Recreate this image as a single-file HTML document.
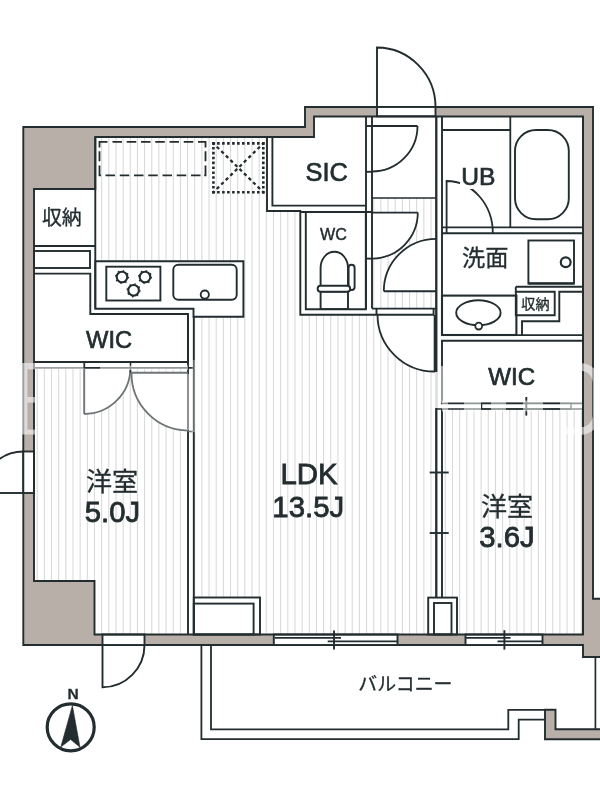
<!DOCTYPE html>
<html><head><meta charset="utf-8"><title>Floor plan</title>
<style>
html,body{margin:0;padding:0;background:#fff;}
body{width:600px;height:800px;overflow:hidden;font-family:"Liberation Sans","Noto Sans CJK JP",sans-serif;}
svg{display:block;}
svg{will-change:transform;filter:blur(0.3px);}
svg text{font-family:"Liberation Sans","Noto Sans CJK JP",sans-serif;}
</style></head><body>
<svg width="600" height="800" viewBox="0 0 600 800">
<rect width="600" height="800" fill="#fff"/>
<path d="M23.3 127 L305 127 L305 107 L593 107 L593 598.7 L602 598.7 L602 657 L583 657 L583 645 L23.3 645 Z" fill="#b8afa9" stroke="#232d2f" stroke-width="1.9" />
<path d="M95.3 137 L314 137 L314 116.5 L583 116.5 L583 634.5 L94.5 634.5 L94.5 581 L34 581 L34 189 L95.3 189 Z" fill="#fff" stroke="none" stroke-width="1.9" />
<clipPath id="fl"><path d="M95.3 137 L267 137 L267 211 L300.3 211 L300.3 314.5 L436.3 314.5 L436.3 634.5 L193.8 634.5 L193.8 316.8 L243.4 316.8 L243.4 261.2 L95.3 261.2 Z M372 198 L436.3 198 L436.3 308.6 L372 308.6 Z M34 367.8 L188 367.8 L188 634.5 L94.5 634.5 L94.5 581 L34 581 Z M442 409 L583 409 L583 634.5 L442 634.5 Z "/></clipPath>
<path d="M22.88 100V700 M30.04 100V700 M37.20 100V700 M44.36 100V700 M51.52 100V700 M58.68 100V700 M65.84 100V700 M73.00 100V700 M80.16 100V700 M87.32 100V700 M94.48 100V700 M101.64 100V700 M108.80 100V700 M115.96 100V700 M123.12 100V700 M130.28 100V700 M137.44 100V700 M144.60 100V700 M151.76 100V700 M158.92 100V700 M166.08 100V700 M173.24 100V700 M180.40 100V700 M187.56 100V700 M194.72 100V700 M201.88 100V700 M209.04 100V700 M216.20 100V700 M223.36 100V700 M230.52 100V700 M237.68 100V700 M244.84 100V700 M252.00 100V700 M259.16 100V700 M266.32 100V700 M273.48 100V700 M280.64 100V700 M287.80 100V700 M294.96 100V700 M302.12 100V700 M309.28 100V700 M316.44 100V700 M323.60 100V700 M330.76 100V700 M337.92 100V700 M345.08 100V700 M352.24 100V700 M359.40 100V700 M366.56 100V700 M373.72 100V700 M380.88 100V700 M388.04 100V700 M395.20 100V700 M402.36 100V700 M409.52 100V700 M416.68 100V700 M423.84 100V700 M431.00 100V700 M438.16 100V700 M445.32 100V700 M452.48 100V700 M459.64 100V700 M466.80 100V700 M473.96 100V700 M481.12 100V700 M488.28 100V700 M495.44 100V700 M502.60 100V700 M509.76 100V700 M516.92 100V700 M524.08 100V700 M531.24 100V700 M538.40 100V700 M545.56 100V700 M552.72 100V700 M559.88 100V700 M567.04 100V700 M574.20 100V700 M581.36 100V700 M588.52 100V700 M595.68 100V700" stroke="#dadada" stroke-width="1.1" fill="none" clip-path="url(#fl)"/>
<rect x="377" y="107" width="58.5" height="9.299999999999997" rx="0" fill="#fff" stroke="none"/>
<rect x="23.3" y="451.5" width="10.7" height="41.5" rx="0" fill="#fff" stroke="none"/>
<rect x="102.5" y="634.5" width="42.0" height="10.5" rx="0" fill="#fff" stroke="none"/>
<rect x="273.8" y="634.5" width="123.69999999999999" height="10.5" rx="0" fill="#fff" stroke="none"/>
<rect x="465.5" y="634.5" width="77.0" height="10.5" rx="0" fill="#fff" stroke="none"/>
<path d="M95.3 261.2 L243.4 261.2 L243.4 316.8 L193.5 316.8 L193.5 308.8 L95.3 308.8 Z" fill="#fff" stroke="none"/>
<path d="M267 137 L314 137 L314 116.3 L372 116.3 L372 314.7 L300.3 314.7 L300.3 211 L267 211 Z" fill="#fff" stroke="none"/>
<rect x="372" y="116.3" width="64.30000000000001" height="81.7" rx="0" fill="#fff" stroke="none"/>
<rect x="436.3" y="116.3" width="146.7" height="292.7" rx="0" fill="#fff" stroke="none"/>
<rect x="193.8" y="597.5" width="66.19999999999999" height="37.0" rx="0" fill="#fff" stroke="none"/>
<rect x="193.8" y="603.6" width="59.79999999999998" height="30.899999999999977" rx="0" fill="#fff" stroke="none"/>
<rect x="428.2" y="597.6" width="28.80000000000001" height="36.89999999999998" rx="0" fill="#fff" stroke="none"/>
<rect x="434" y="603" width="17.5" height="31.5" rx="0" fill="#fff" stroke="none"/>
<path d="M372 126 L417.5 126 A45.5 45.5 0 0 1 372 171.5 Z" fill="#fff" stroke="none"/>
<path d="M372 212.6 L417.8 212.6 A46 46 0 0 1 372 258.6 Z" fill="#fff" stroke="none"/>
<path d="M436.3 291.2 L383.8 291.2 A52.4 52.4 0 0 1 436.3 238.8 Z" fill="#fff" stroke="none"/>
<path d="M435 314.7 L435 371.5 A57 57 0 0 1 377.5 314.7 Z" fill="#fff" stroke="none"/>
<path d="M84.2 367.8 L84.2 414 A46.2 46.2 0 0 0 130.4 367.8 Z" fill="#fff" stroke="none"/>
<path d="M188 372.8 L131.5 372.8 A57 57 0 0 0 188 430.5 Z" fill="#fff" stroke="none"/>
<path d="M95.3 137 L314 137 L314 116.5 L583 116.5 L583 634.5 L94.5 634.5 L94.5 581 L34 581 L34 189 L95.3 189 Z" fill="none" stroke="#232d2f" stroke-width="1.9" />
<rect x="377" y="107" width="58.5" height="9.299999999999997" rx="0" fill="none" stroke="#232d2f" stroke-width="1.9" />
<rect x="23.3" y="451.5" width="10.7" height="41.5" rx="0" fill="none" stroke="#232d2f" stroke-width="1.9" />
<rect x="102.5" y="634.5" width="42.0" height="10.5" rx="0" fill="none" stroke="#232d2f" stroke-width="1.9" />
<rect x="273.8" y="634.5" width="123.69999999999999" height="10.5" rx="0" fill="none" stroke="#232d2f" stroke-width="1.9" />
<rect x="465.5" y="634.5" width="77.0" height="10.5" rx="0" fill="none" stroke="#232d2f" stroke-width="1.9" />
<line x1="274.5" y1="637.8" x2="341" y2="637.8" stroke="#232d2f" stroke-width="1.7" />
<line x1="327.7" y1="641.4" x2="397" y2="641.4" stroke="#232d2f" stroke-width="1.7" />
<line x1="334" y1="630.4" x2="334" y2="649.6" stroke="#232d2f" stroke-width="1.9" />
<line x1="466" y1="637.8" x2="510.5" y2="637.8" stroke="#232d2f" stroke-width="1.7" />
<line x1="497.5" y1="641.4" x2="542" y2="641.4" stroke="#232d2f" stroke-width="1.7" />
<line x1="504.4" y1="630.2" x2="504.4" y2="649.6" stroke="#232d2f" stroke-width="1.9" />
<path d="M377 107 V47.5 A59 59.5 0 0 1 435.5 107" fill="none" stroke="#232d2f" stroke-width="1.9"/>
<path d="M-2 493 H23.3" fill="none" stroke="#232d2f" stroke-width="1.9"/>
<path d="M23.3 451.5 A41.5 41.5 0 0 0 -18.2 493" fill="none" stroke="#232d2f" stroke-width="1.9"/>
<path d="M102.5 645 V687.3 A42 42.3 0 0 0 144.5 645" fill="none" stroke="#232d2f" stroke-width="1.9"/>
<line x1="34" y1="246" x2="95.3" y2="246" stroke="#232d2f" stroke-width="1.9" />
<rect x="34" y="251" width="56" height="17" rx="0" fill="none" stroke="#232d2f" stroke-width="1.9" />
<path d="M34 273.6 L90.3 273.6 L90.3 314 L188 314 L188 362" fill="none" stroke="#232d2f" stroke-width="1.9" />
<line x1="34" y1="362" x2="188" y2="362" stroke="#232d2f" stroke-width="1.9" />
<line x1="34" y1="367.8" x2="194" y2="367.8" stroke="#232d2f" stroke-width="1.7" />
<line x1="95.3" y1="137" x2="95.3" y2="308.6" stroke="#232d2f" stroke-width="1.9" />
<path d="M95.3 261.2 L243.4 261.2 L243.4 316.8 L193.5 316.8 L193.5 308.8 L95.3 308.8 Z" fill="none" stroke="#232d2f" stroke-width="1.9" />
<rect x="106.3" y="266.7" width="54.10000000000001" height="33.80000000000001" rx="0" fill="none" stroke="#232d2f" stroke-width="1.9" />
<circle cx="122" cy="277" r="5.3" fill="#fff" stroke="#232d2f" stroke-width="2.1"/>
<circle cx="122" cy="277" r="6.3" fill="none" stroke="#232d2f" stroke-width="1.6" stroke-dasharray="1.4 3.548"/>
<circle cx="145" cy="277" r="5.3" fill="#fff" stroke="#232d2f" stroke-width="2.1"/>
<circle cx="145" cy="277" r="6.3" fill="none" stroke="#232d2f" stroke-width="1.6" stroke-dasharray="1.4 3.548"/>
<circle cx="133.6" cy="290.3" r="5.3" fill="#fff" stroke="#232d2f" stroke-width="2.1"/>
<circle cx="133.6" cy="290.3" r="6.3" fill="none" stroke="#232d2f" stroke-width="1.6" stroke-dasharray="1.4 3.548"/>
<rect x="173.3" y="264.8" width="63.39999999999998" height="34.89999999999998" rx="5" fill="none" stroke="#232d2f" stroke-width="1.9" />
<circle cx="204.8" cy="294.6" r="4.1" fill="#fff" stroke="#232d2f" stroke-width="1.9"/>
<line x1="188" y1="314" x2="188" y2="634.5" stroke="#232d2f" stroke-width="1.9" />
<line x1="193.8" y1="316.8" x2="193.8" y2="634.5" stroke="#232d2f" stroke-width="1.9" />
<path d="M99.5 141.8H107.5 M112.5 141.8H122 M126.75 141.8H136.25 M141 141.8H150.5 M155.25 141.8H164.75 M169.5 141.8H179 M183.75 141.8H193.25 M198 141.8H205.5 M99.5 175.4H101 M105.5 175.4H115 M119.75 175.4H129.25 M134 175.4H143.5 M148.25 175.4H157.75 M162.5 175.4H172 M176.75 175.4H186.25 M191 175.4H200.5 M204.2 175.4H205.5 M99.5 141V147.5 M99.5 151.25V161.25 M99.5 165.5V176.2 M205.5 141V147.5 M205.5 151.25V161.25 M205.5 165.5V176.2" fill="none" stroke="#232d2f" stroke-width="1.8"/>
<path d="M212.1 143.4H264.6" fill="none" stroke="#232d2f" stroke-width="2.6" stroke-dasharray="2.6 2.390"/>
<path d="M212.1 192.2H264.6" fill="none" stroke="#232d2f" stroke-width="2.6" stroke-dasharray="2.6 2.390"/>
<path d="M213.4 142.1V193.5" fill="none" stroke="#232d2f" stroke-width="2.6" stroke-dasharray="2.6 2.280"/>
<path d="M263.3 142.1V193.5" fill="none" stroke="#232d2f" stroke-width="2.6" stroke-dasharray="2.6 2.280"/>
<path d="M213.4 143.4 L263.3 192.2 M263.3 143.4 L213.4 192.2" fill="none" stroke="#232d2f" stroke-width="2.3" stroke-dasharray="3.3 3.05" stroke-dashoffset="1.6"/>
<path d="M267 137 L267 211 L300.3 211 L300.3 314.7 L434 314.7" fill="none" stroke="#232d2f" stroke-width="1.9" />
<path d="M272.4 137 L272.4 205.6 L366 205.6" fill="none" stroke="#232d2f" stroke-width="1.9" />
<line x1="366" y1="116.3" x2="366" y2="309.2" stroke="#232d2f" stroke-width="1.9" />
<line x1="372" y1="116.3" x2="372" y2="308.6" stroke="#232d2f" stroke-width="1.9" />
<path d="M305.8 212 L365.8 212 L365.8 309.2 L305.8 309.2 Z" fill="none" stroke="#232d2f" stroke-width="1.9" />
<line x1="300.3" y1="212" x2="372" y2="212" stroke="#232d2f" stroke-width="1.9" />
<line x1="372" y1="198" x2="436.3" y2="198" stroke="#232d2f" stroke-width="1.6" />
<line x1="436.3" y1="116.3" x2="436.3" y2="597.5" stroke="#232d2f" stroke-width="1.9" />
<line x1="372" y1="308.6" x2="437" y2="308.6" stroke="#232d2f" stroke-width="1.9" />
<line x1="376.5" y1="308.6" x2="376.5" y2="314.7" stroke="#232d2f" stroke-width="1.9" />
<line x1="433.6" y1="308.6" x2="433.6" y2="314.7" stroke="#232d2f" stroke-width="1.9" />
<path d="M320.6 285.8 V268 A13.7 16.3 0 0 1 348 268 V285.8" fill="#fff" stroke="#232d2f" stroke-width="1.9"/>
<rect x="348.6" y="264.8" width="6.0" height="25.19999999999999" rx="3" fill="#fff" stroke="#232d2f" stroke-width="1.9" />
<rect x="320.6" y="291.5" width="27.399999999999977" height="17.5" rx="0" fill="#fff" stroke="#232d2f" stroke-width="1.9" />
<rect x="317.6" y="285.8" width="32.599999999999966" height="6.0" rx="3" fill="#fff" stroke="#232d2f" stroke-width="1.9" />
<line x1="436.3" y1="116.3" x2="436.3" y2="597.5" stroke="#232d2f" stroke-width="1.9" />
<line x1="583" y1="116.3" x2="583" y2="634.5" stroke="#232d2f" stroke-width="1.9" />
<line x1="442" y1="116.3" x2="442" y2="335" stroke="#232d2f" stroke-width="1.9" />
<line x1="442" y1="130" x2="510.3" y2="130" stroke="#232d2f" stroke-width="1.8" />
<line x1="510.3" y1="116.3" x2="510.3" y2="227.3" stroke="#232d2f" stroke-width="1.8" />
<line x1="442" y1="227.3" x2="583" y2="227.3" stroke="#232d2f" stroke-width="1.8" />
<line x1="442" y1="233.2" x2="583" y2="233.2" stroke="#232d2f" stroke-width="1.9" />
<rect x="515" y="130" width="53.799999999999955" height="89.19999999999999" rx="21" fill="none" stroke="#232d2f" stroke-width="1.9" />
<path d="M446.6 233 V181 A46.2 52 0 0 1 492.8 233" fill="none" stroke="#232d2f" stroke-width="1.8"/>
<rect x="528.4" y="240.5" width="45.60000000000002" height="43.10000000000002" rx="0" fill="none" stroke="#232d2f" stroke-width="1.9" />
<line x1="528.4" y1="283.4" x2="574" y2="283.4" stroke="#232d2f" stroke-width="2.4" />
<circle cx="565.7" cy="262.3" r="4.9" fill="#fff" stroke="#232d2f" stroke-width="2.2"/>
<line x1="515.8" y1="286.8" x2="583" y2="286.8" stroke="#232d2f" stroke-width="1.9" />
<path d="M515.8 286.8 L515.8 315.3 L554.7 315.3 L554.7 291.7 L515.8 291.7" fill="none" stroke="#232d2f" stroke-width="1.9" />
<path d="M583 291.7 L559.3 291.7 L559.3 321.3 L522 321.3 L522 335.3" fill="none" stroke="#232d2f" stroke-width="1.9" />
<rect x="442" y="295.6" width="74.39999999999998" height="39.39999999999998" rx="0" fill="none" stroke="#232d2f" stroke-width="2.1" />
<line x1="442" y1="335.2" x2="583" y2="335.2" stroke="#232d2f" stroke-width="1.8" />
<ellipse cx="478.4" cy="312.8" rx="22.2" ry="12.5" fill="none" stroke="#232d2f" stroke-width="1.9"/>
<circle cx="478.7" cy="326.1" r="3.4" fill="#fff" stroke="#232d2f" stroke-width="1.8"/>
<path d="M583 340.8 L442 340.8 L442 403.4 L583 403.4" fill="none" stroke="#232d2f" stroke-width="1.9" />
<line x1="436.3" y1="409" x2="583" y2="409" stroke="#232d2f" stroke-width="1.7" />
<rect x="481.6" y="403.4" width="89.39999999999998" height="5.600000000000023" rx="0" fill="none" stroke="#232d2f" stroke-width="1.3" />
<line x1="526.3" y1="397" x2="526.3" y2="415.6" stroke="#232d2f" stroke-width="1.9" />
<line x1="442" y1="409" x2="442" y2="597.5" stroke="#232d2f" stroke-width="1.9" />
<line x1="429.7" y1="472.5" x2="448.7" y2="472.5" stroke="#232d2f" stroke-width="1.9" />
<line x1="429.7" y1="533" x2="448.7" y2="533" stroke="#232d2f" stroke-width="1.9" />
<rect x="193.8" y="597.5" width="66.19999999999999" height="37.0" rx="0" fill="none" stroke="#232d2f" stroke-width="1.9" />
<rect x="193.8" y="603.6" width="59.79999999999998" height="30.899999999999977" rx="0" fill="none" stroke="#232d2f" stroke-width="1.9" />
<rect x="428.2" y="597.6" width="28.80000000000001" height="36.89999999999998" rx="0" fill="none" stroke="#232d2f" stroke-width="1.9" />
<rect x="434" y="603" width="17.5" height="31.5" rx="0" fill="none" stroke="#232d2f" stroke-width="1.9" />
<path d="M417.5 126 A45.5 45.5 0 0 1 372 171.5" fill="none" stroke="#232d2f" stroke-width="1.8"/>
<path d="M372 126 L417.5 126" fill="none" stroke="#232d2f" stroke-width="1.9"/>
<line x1="366" y1="126" x2="372" y2="126" stroke="#232d2f" stroke-width="1.9" />
<line x1="366" y1="171.8" x2="372" y2="171.8" stroke="#232d2f" stroke-width="1.9" />
<path d="M417.8 212.6 A46 46 0 0 1 372 258.6" fill="none" stroke="#232d2f" stroke-width="1.8"/>
<path d="M372 212.6 L417.8 212.6" fill="none" stroke="#232d2f" stroke-width="1.9"/>
<line x1="366" y1="258.6" x2="372" y2="258.6" stroke="#232d2f" stroke-width="1.9" />
<path d="M383.8 291.2 A52.4 52.4 0 0 1 436.3 238.8" fill="none" stroke="#232d2f" stroke-width="1.8"/>
<path d="M436.3 291.2 L383.8 291.2" fill="none" stroke="#232d2f" stroke-width="1.9"/>
<path d="M435 371.5 A57 57 0 0 1 377.5 314.7" fill="none" stroke="#232d2f" stroke-width="1.8"/>
<path d="M435 314.7 L435 371.5" fill="none" stroke="#232d2f" stroke-width="2.6"/>
<path d="M84.2 414 A46.2 46.2 0 0 0 130.4 367.8" fill="none" stroke="#6f7577" stroke-width="1.8"/>
<path d="M84.2 367.8 L84.2 414" fill="none" stroke="#6f7577" stroke-width="1.9"/>
<line x1="84.2" y1="362" x2="84.2" y2="367.8" stroke="#232d2f" stroke-width="1.9" />
<path d="M131.5 372.8 A57 57 0 0 0 188 430.5" fill="none" stroke="#6f7577" stroke-width="1.8"/>
<path d="M188 372.8 L131.5 372.8" fill="none" stroke="#6f7577" stroke-width="2"/>
<line x1="188" y1="431.5" x2="194" y2="431.5" stroke="#6f7577" stroke-width="1.6" />
<line x1="130.5" y1="362" x2="130.5" y2="372.8" stroke="#232d2f" stroke-width="1.6" />
<path d="M201.4 645 L201.4 739.2 L518.7 739.2 L518.7 719.7 L545 719.7" fill="none" stroke="#232d2f" stroke-width="1.8" />
<path d="M211 645 L211 729.3 L508.3 729.3 L508.3 709.8 L555.5 709.8" fill="none" stroke="#232d2f" stroke-width="1.8" />
<path d="M545 709.8 L555.5 709.8 L555.5 729.2 L602 729.2 L602 739.2 L545 739.2 Z" fill="#b8afa9" stroke="#232d2f" stroke-width="1.9" />
<line x1="595.4" y1="657" x2="595.4" y2="729.2" stroke="#232d2f" stroke-width="1.7" />
<rect x="21.8" y="363" width="5.6" height="71.5" fill="#fff" fill-opacity="0.55"/>
<rect x="27.4" y="363" width="56" height="6.3" fill="#fff" fill-opacity="0.55"/>
<rect x="27.4" y="397" width="8" height="5.6" fill="#fff" fill-opacity="0.55"/>
<rect x="27.4" y="429.6" width="8" height="4.9" fill="#fff" fill-opacity="0.55"/>
<rect x="100" y="365.5" width="88" height="4.6" fill="#fff" fill-opacity="0.5"/>
<rect x="185.5" y="374" width="5" height="56" fill="#fff" fill-opacity="0.45"/>
<rect x="191.5" y="360" width="5" height="72" fill="#fff" fill-opacity="0.3"/>
<rect x="434.8" y="372" width="3" height="36" fill="#fff" fill-opacity="0.85"/>
<rect x="440.5" y="366" width="3.2" height="37" fill="#fff" fill-opacity="0.5"/>
<rect x="442" y="400.5" width="6" height="11" fill="#fff" fill-opacity="0.5"/>
<rect x="464" y="400.5" width="17" height="11" fill="#fff" fill-opacity="0.5"/>
<rect x="491" y="400.5" width="15" height="11" fill="#fff" fill-opacity="0.5"/>
<rect x="523" y="400.5" width="20" height="11" fill="#fff" fill-opacity="0.5"/>
<rect x="560" y="400.5" width="22" height="11" fill="#fff" fill-opacity="0.5"/>
<path d="M566 367 H580.5 A16 16 0 0 1 596.5 383 V415 A16 16 0 0 1 580.5 431 H566" fill="none" stroke="#fff" stroke-opacity="0.55" stroke-width="7.5"/>
<circle cx="70.7" cy="727.3" r="23.5" fill="none" stroke="#232d2f" stroke-width="3.2"/>
<path d="M72.4 705.5 L60.8 747 L70.6 739.5 L80 747.3 Z" fill="#232d2f" stroke="#232d2f" stroke-width="0.6" />
<text x="73.2" y="699.3" font-size="15.5" font-weight="bold" text-anchor="middle" fill="#232d2f" stroke="#232d2f" stroke-width="0.3" >N</text>
<text x="326.7" y="180.8" font-size="25.4" font-weight="normal" text-anchor="middle" fill="#232d2f" stroke="#232d2f" stroke-width="0.69" >SIC</text>
<text x="333.5" y="239.8" font-size="16.1" font-weight="normal" text-anchor="middle" fill="#232d2f" stroke="#232d2f" stroke-width="0.43" >WC</text>
<rect x="460" y="165" width="37.5" height="24" fill="#fff"/>
<text x="478.3" y="185.3" font-size="24.6" font-weight="normal" text-anchor="middle" fill="#232d2f" stroke="#232d2f" stroke-width="0.66" >UB</text>
<text x="109.1" y="347.7" font-size="23.7" font-weight="normal" text-anchor="middle" fill="#232d2f" stroke="#232d2f" stroke-width="0.64" >WIC</text>
<text x="511.7" y="385.1" font-size="24.1" font-weight="normal" text-anchor="middle" fill="#232d2f" stroke="#232d2f" stroke-width="0.65" >WIC</text>
<text x="309" y="484.3" font-size="29.4" font-weight="normal" text-anchor="middle" fill="#232d2f" stroke="#232d2f" stroke-width="0.79" >LDK</text>
<text x="308.3" y="516.9" font-size="29.4" font-weight="normal" text-anchor="middle" fill="#232d2f" stroke="#232d2f" stroke-width="0.79" >13.5J</text>
<text x="112.4" y="522" font-size="29.3" font-weight="normal" text-anchor="middle" fill="#232d2f" stroke="#232d2f" stroke-width="0.79" >5.0J</text>
<text x="507" y="547.3" font-size="29.3" font-weight="normal" text-anchor="middle" fill="#232d2f" stroke="#232d2f" stroke-width="0.79" >3.6J</text>
<text x="61.8" y="225.3" font-size="19.9" font-weight="normal" text-anchor="middle" fill="#232d2f" stroke="#232d2f" stroke-width="0.3" >収納</text>
<text x="535.4" y="308.5" font-size="14.1" font-weight="normal" text-anchor="middle" fill="#232d2f" stroke="#232d2f" stroke-width="0.3" >収納</text>
<text x="112" y="491.3" font-size="26.1" font-weight="normal" text-anchor="middle" fill="#232d2f" stroke="#232d2f" stroke-width="0.3" >洋室</text>
<text x="507" y="516.3" font-size="26.1" font-weight="normal" text-anchor="middle" fill="#232d2f" stroke="#232d2f" stroke-width="0.3" >洋室</text>
<text x="485.2" y="266.2" font-size="23.2" font-weight="normal" text-anchor="middle" fill="#232d2f" stroke="#232d2f" stroke-width="0.3" >洗面</text>
<text x="405.4" y="691.3" font-size="18.9" font-weight="normal" text-anchor="middle" fill="#232d2f" stroke="#232d2f" stroke-width="0.3" >バルコニー</text>
</svg>
</body></html>
